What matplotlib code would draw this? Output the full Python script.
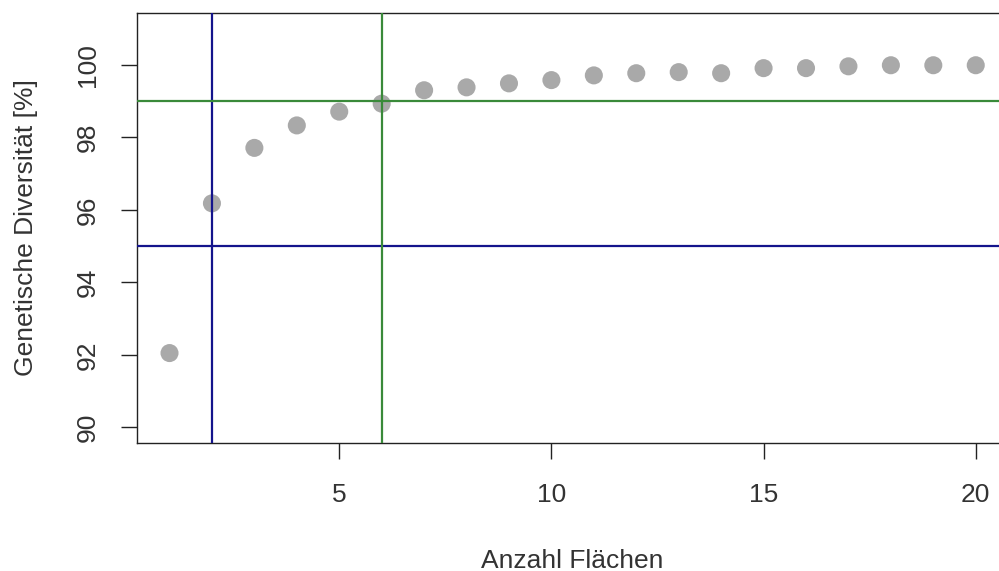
import matplotlib
matplotlib.use("Agg")
import matplotlib.pyplot as plt

x_flaechen = list(range(1, 21))
diversitaet = [92.05, 96.18, 97.71, 98.33, 98.71, 98.93, 99.30, 99.38, 99.49, 99.58,
               99.71, 99.77, 99.80, 99.77, 99.91, 99.91, 99.96, 99.99, 99.99, 99.99]
x_ticks = [5, 10, 15, 20]
y_ticks = [90, 92, 94, 96, 98, 100]
h_blue, h_green = 95, 99
v_blue, v_green = 2, 6

plt.rcParams['font.family'] = ['Liberation Sans', 'DejaVu Sans']

fig = plt.figure(figsize=(9.99, 5.71), dpi=100)
ax = fig.add_axes([0.1374, 0.2236, 1.009 - 0.1374, 0.9778 - 0.2236])

ax.scatter(x_flaechen, diversitaet, s=13**2, color='#a9a9a9', edgecolors='none', zorder=2)
ax.axhline(h_blue, color='#14148c', lw=1.6, zorder=3)
ax.axvline(v_blue, color='#14148c', lw=1.6, zorder=3)
ax.axhline(h_green, color='#3a8a3a', lw=1.6, zorder=3)
ax.axvline(v_green, color='#3a8a3a', lw=1.6, zorder=3)

ax.set_xlim(0.24, 20.76)
ax.set_ylim(89.56, 101.44)
ax.set_xticks(x_ticks)
ax.set_yticks(y_ticks)
ax.set_yticklabels([str(v) for v in y_ticks], rotation=90, va='center')
ax.tick_params(axis='both', length=11.5, width=1.0, labelsize=19, color='#222222', labelcolor='#333333')
ax.tick_params(axis='x', pad=17)
ax.tick_params(axis='y', pad=15.5)
for s in ax.spines.values():
    s.set_linewidth(1.0)
    s.set_color('#222222')

ax.set_xlabel('Anzahl Flächen', fontsize=19, labelpad=30, color='#333333')
ax.set_ylabel('Genetische Diversität [%]', fontsize=19, labelpad=27, color='#333333')

fig.savefig('out.png', dpi=100)
